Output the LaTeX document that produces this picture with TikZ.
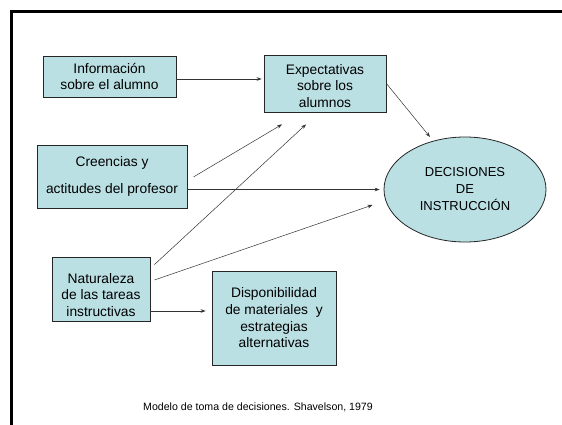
\documentclass[tikz,border=0pt]{standalone}
\usepackage{fontspec}
\setmainfont{Liberation Sans}
\usetikzlibrary{arrows.meta,shapes.geometric,calc}
\definecolor{boxfill}{RGB}{187,224,228}
\begin{document}
\begin{tikzpicture}[x=1pt,y=-1pt,
  box/.style={draw=black!85,line width=0.8pt,fill=boxfill,align=center,inner sep=0pt,
    font=\fontsize{13.8}{16.7}\selectfont},
  plain/.style={align=center,inner sep=0pt,font=\fontsize{13.8}{16.7}\selectfont},
  arr/.style={draw=black!80,line width=0.5pt,-{Stealth[length=5pt,width=3.6pt]}},
  frame/.style={line width=3pt,draw=black}]
\useasboundingbox (0,0) rectangle (562,425);
\fill[white] (0,0) rectangle (562,425);
\draw[frame] (562,11.5) -- (11.5,11.5) -- (11.5,425);

\node[box,minimum width=133pt,minimum height=41pt] (info) at (109.5,76.5)
  {Información\\sobre el alumno};
\node[box,minimum width=122pt,minimum height=57pt] (exp) at (325,83.5) {};
\node[plain] (expt) at (325,86) {Expectativas\\sobre los\\alumnos};
\node[box,minimum width=150pt,minimum height=63pt] (cre) at (112,176.5)
  {Creencias y\\[9.5pt]actitudes del profesor};
\node[box,minimum width=98pt,minimum height=64pt] (nat) at (101,289) {};
\node[plain] (natt) at (101,295) {Naturaleza\\de las tareas\\instructivas};
\node[box,minimum width=124pt,minimum height=94pt] (disp) at (274,318)
  {Disponibilidad\\de materiales\ \ y\\estrategias\\alternativas};
\node[box,ellipse,minimum width=162pt,minimum height=105pt,
  font=\fontsize{13}{17}\selectfont] (dec) at (465,189.5)
  {DECISIONES\\DE\\INSTRUCCIÓN};

\node[inner sep=0pt,font=\fontsize{10.6}{13}\selectfont] (cap) at (258,407)
  {Modelo de toma de decisiones. Shavelson, 1979};

\draw[arr] ($(info.east)+(0,2.5)$) -- ($(exp.west)+(-2,-4.5)$);
\draw[arr] (exp.east) -- ($(dec.center)+(-35,-52.5)$);
\draw[arr] ($(cre.east)+(6,0.5)$) -- ($(exp.south)+(-43,12)$);
\draw[arr] ($(nat.north east)+(4,8)$) -- ($(exp.south)+(-19,12)$);
\draw[arr] ($(cre.east)+(0,13)$) -- ($(dec.west)+(-4,0)$);
\draw[arr] ($(nat.east)+(4,-9)$) -- ($(dec.west)+(-11,15.5)$);
\draw[arr] ($(nat.east)+(0,22)$) -- ($(disp.west)+(-6,-7)$);
\end{tikzpicture}
\end{document}
